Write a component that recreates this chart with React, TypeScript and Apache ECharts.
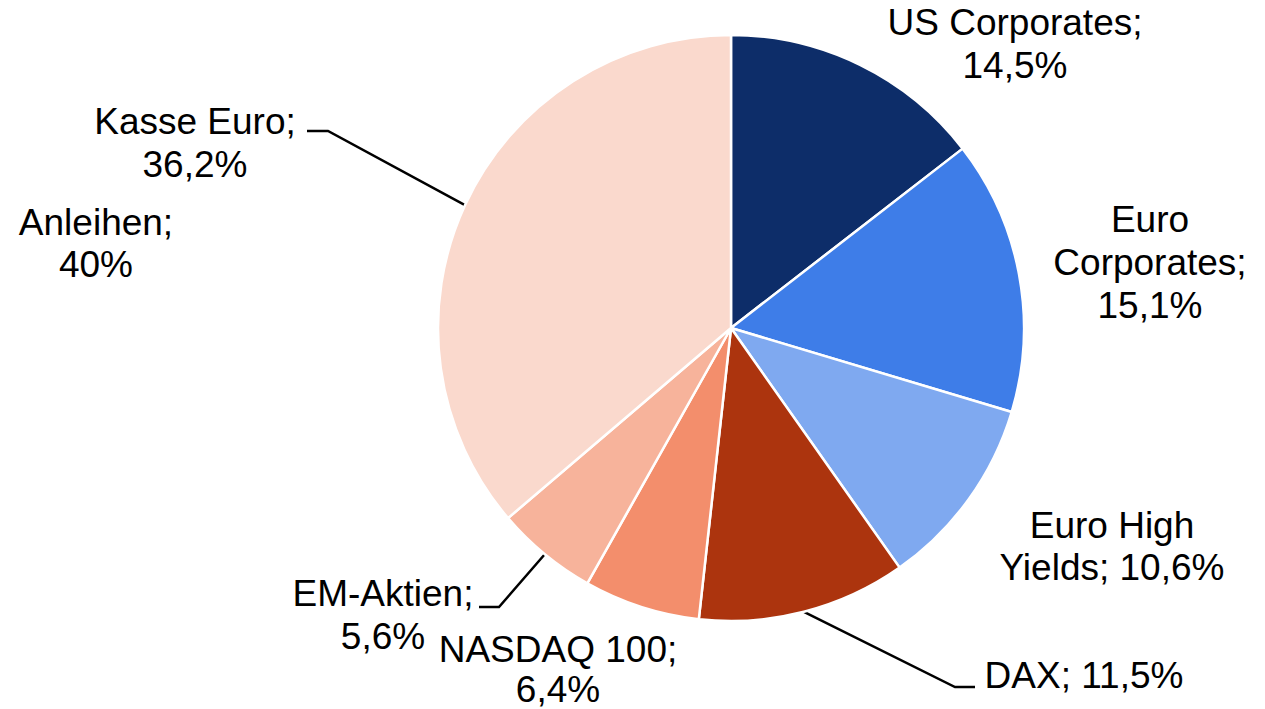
import React, { useEffect, useRef } from "react";
import * as echarts from "echarts";

// ---- data ----
const categories = [
  "US Corporates",
  "Euro Corporates",
  "Euro High Yields",
  "DAX",
  "NASDAQ 100",
  "EM-Aktien",
  "Kasse Euro",
];
const values = [14.5, 15.1, 10.6, 11.5, 6.4, 5.6, 36.2];
const groupLabel = "Anleihen";
const groupValue = 40;

// ---- presentation ----
const colors = ["#0d2d69", "#3e7de8", "#7fa9f0", "#ac340e", "#f38e6c", "#f7b39b", "#fad9cd"];
const labelNames = [
  "US Corporates",
  "Euro\nCorporates",
  "Euro High\nYields",
  "DAX",
  "NASDAQ 100",
  "EM-Aktien",
  "Kasse Euro",
];
const valueOnNewLine = [true, true, false, false, true, true, true];
const showLeader = [false, false, false, true, false, true, true];
const labelLineHeights = [43, 43, 42, 43, 40, 43, 43];
const labelPos: number[][] = [
  [1015, 44],
  [1150, 262],
  [1112, 546],
  [1084, 675],
  [558, 669],
  [383, 615],
  [195, 143],
];
const leaderPts: Record<number, number[][]> = {
  3: [
    [955, 687],
    [975, 687],
  ],
  5: [
    [499, 607],
    [479, 607],
  ],
  6: [
    [328, 131],
    [307, 131],
  ],
};

const FONT = "'Liberation Sans', Arial, sans-serif";
const fmt = (v: number) => (Number.isInteger(v) ? String(v) : v.toFixed(1).replace(".", ","));

export default function App() {
  const ref = useRef<HTMLDivElement>(null);
  useEffect(() => {
    document.body.style.margin = "0";
    const chart = echarts.init(ref.current!, null, { renderer: "svg" });
    chart.setOption({
      animation: false,
      backgroundColor: "#ffffff",
      graphic: [
        {
          type: "text",
          x: 96,
          y: 243,
          style: {
            text: `${groupLabel};\n${fmt(groupValue)}%`,
            fontFamily: FONT,
            fontSize: 37,
            lineHeight: 42,
            fill: "#000",
            align: "center",
            verticalAlign: "middle",
            textAlign: "center",
            textVerticalAlign: "middle",
          },
        },
      ],
      series: [
        {
          type: "pie",
          center: [731, 328],
          radius: 293,
          startAngle: 90,
          clockwise: true,
          avoidLabelOverlap: false,
          itemStyle: { borderColor: "#ffffff", borderWidth: 2.5 },
          emphasis: { disabled: true },
          label: {
            show: true,
            position: "outside",
            fontFamily: FONT,
            fontSize: 37,
            lineHeight: 43,
            color: "#000",
            align: "center",
            formatter: (p: any) => {
              const i = p.dataIndex;
              return `${labelNames[i]};${valueOnNewLine[i] ? "\n" : " "}${fmt(values[i])}%`;
            },
          },
          labelLine: {
            show: true,
            lineStyle: { color: "#000", width: 2.5 },
          },
          labelLayout: (params: any) => {
            const i = params.dataIndex;
            const res: any = {
              x: labelPos[i][0],
              y: labelPos[i][1],
              align: "center",
              verticalAlign: "middle",
            };
            if (showLeader[i] && params.labelLinePoints && leaderPts[i]) {
              res.labelLinePoints = [params.labelLinePoints[0], ...leaderPts[i]];
            }
            return res;
          },
          data: categories.map((name, i) => ({
            name,
            value: values[i],
            itemStyle: { color: colors[i] },
            label: { lineHeight: labelLineHeights[i] },
            labelLine: { show: showLeader[i] },
          })),
        },
      ],
    });
    return () => chart.dispose();
  }, []);
  return <div ref={ref} style={{ width: 1265, height: 709 }} />;
}
